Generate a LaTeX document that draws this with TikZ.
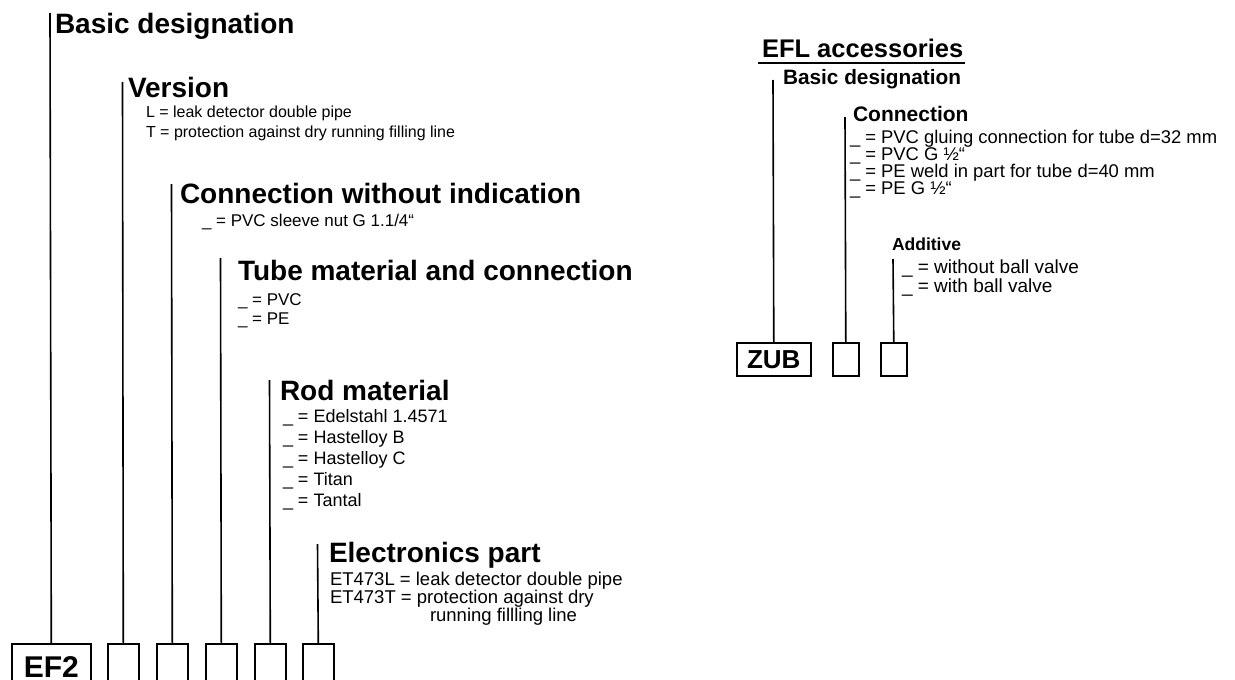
\documentclass[tikz,border=0pt]{standalone}
\usepackage{fontspec}
\setmainfont{Liberation Sans}
\newcommand\fb[1]{\fontsize{#1}{#1}\bfseries\selectfont}
\newcommand\fr[1]{\fontsize{#1}{#1}\selectfont}
\tikzset{
  lbl/.style={anchor=base west, inner sep=0pt, outer sep=0pt},
  conn/.style={line width=1.6pt},
  box/.style={draw, line width=1.6pt, inner sep=0pt, anchor=north west},
  hl/.style={lbl, font={\fb{28}}},
}
\begin{document}
\begin{tikzpicture}[x=1pt,y=-1pt]
\clip (0,0) rectangle (1235,680);
\fill[white] (0,0) rectangle (1235,680);

% ---------- left: EF2 ----------
\node[box, minimum width=79pt, minimum height=47pt, font={\fb{30}}] (ef2) at (11,643) {EF2};
\node[box, minimum width=31pt, minimum height=52pt] (b2) at (107,643) {};
\node[box, minimum width=31pt, minimum height=52pt] (b3) at (156,643) {};
\node[box, minimum width=31pt, minimum height=52pt] (b4) at (205,643) {};
\node[box, minimum width=31pt, minimum height=52pt] (b5) at (254,643) {};
\node[box, minimum width=31pt, minimum height=52pt] (b6) at (302,643) {};

\coordinate (t1) at (50,13);
\coordinate (t2) at (122.5,82);
\coordinate (t3) at (171.5,184);
\coordinate (t4) at (220.5,258);
\coordinate (t5) at (269.5,380);
\coordinate (t6) at (317.5,544);
\draw[conn] (t1) -- (ef2.north);
\draw[conn] (t2) -- (b2.north);
\draw[conn] (t3) -- (b3.north);
\draw[conn] (t4) -- (b4.north);
\draw[conn] (t5) -- (b5.north);
\draw[conn] (t6) -- (b6.north);

\node[hl] (h1) at (55,33) {Basic designation};
\node[hl] (h2) at (128,97) {Version};
\node[lbl, font={\fr{16}}] (v1) at (146,117) {L = leak detector double pipe};
\node[lbl, font={\fr{16}}] (v2) at (146,137) {T = protection against dry running filling line};

\node[hl] (h3) at (180,203) {Connection without indication};
\node[lbl, font={\fr{17}}] (c1) at (202,226) {\_ = PVC sleeve nut G 1.1/4“};

\node[hl] (h4) at (238,280) {Tube material and connection};
\node[lbl, font={\fr{17}}] (m1) at (238,305) {\_ = PVC};
\node[lbl, font={\fr{17}}] (m2) at (238,324) {\_ = PE};

\node[hl] (h5) at (280,400) {Rod material};
\node[lbl, font={\fr{18}}] (r1) at (283,422) {\_ = Edelstahl 1.4571};
\node[lbl, font={\fr{18}}] (r2) at (283,443) {\_ = Hastelloy B};
\node[lbl, font={\fr{18}}] (r3) at (283,464) {\_ = Hastelloy C};
\node[lbl, font={\fr{18}}] (r4) at (283,485) {\_ = Titan};
\node[lbl, font={\fr{18}}] (r5) at (283,506) {\_ = Tantal};

\node[hl] (h6) at (329,562) {Electronics part};
\node[lbl, font={\fr{18.5}}] (e1) at (330,585) {ET473L = leak detector double pipe};
\node[lbl, font={\fr{18.5}}] (e2) at (330,603) {ET473T = protection against dry};
\node[lbl, font={\fr{18.5}}] (e3) at (430,621) {running fillling line};

% ---------- right: ZUB ----------
\node[box, minimum width=74pt, minimum height=33pt, font={\fb{26}}] (zub) at (736,342) {ZUB};
\node[box, minimum width=26pt, minimum height=33pt] (z2) at (832,342) {};
\node[box, minimum width=26pt, minimum height=33pt] (z3) at (880,342) {};

\coordinate (u1) at (773,80);
\coordinate (u2) at (845,117);
\coordinate (u3) at (893,259);
\draw[conn] (u1) -- (zub.north);
\draw[conn] (u2) -- (z2.north);
\draw[conn] (u3) -- (z3.north);

\node[lbl, font={\fb{25.5}}] (efl) at (762,57) {EFL accessories};
\draw[conn] ([xshift=-4pt,yshift=-6pt]efl.base west) -- ([xshift=2pt,yshift=-6pt]efl.base east);
\node[lbl, font={\fb{20.8}}] (rh1) at (783,84) {Basic designation};
\node[lbl, font={\fb{21}}] (rh2) at (853,121) {Connection};
\node[lbl, font={\fr{18.4}}] (k1) at (850,143) {\_ = PVC gluing connection for tube d=32 mm};
\node[lbl, font={\fr{18.4}}] (k2) at (850,160) {\_ = PVC G ½“};
\node[lbl, font={\fr{18.4}}] (k3) at (850,177) {\_ = PE weld in part for tube d=40 mm};
\node[lbl, font={\fr{18.4}}] (k4) at (850,194) {\_ = PE G ½“};
\node[lbl, font={\fb{17.5}}] (rh3) at (892,250) {Additive};
\node[lbl, font={\fr{19}}] (a1) at (902,273) {\_ = without ball valve};
\node[lbl, font={\fr{19}}] (a2) at (902,292) {\_ = with ball valve};
\end{tikzpicture}
\end{document}
